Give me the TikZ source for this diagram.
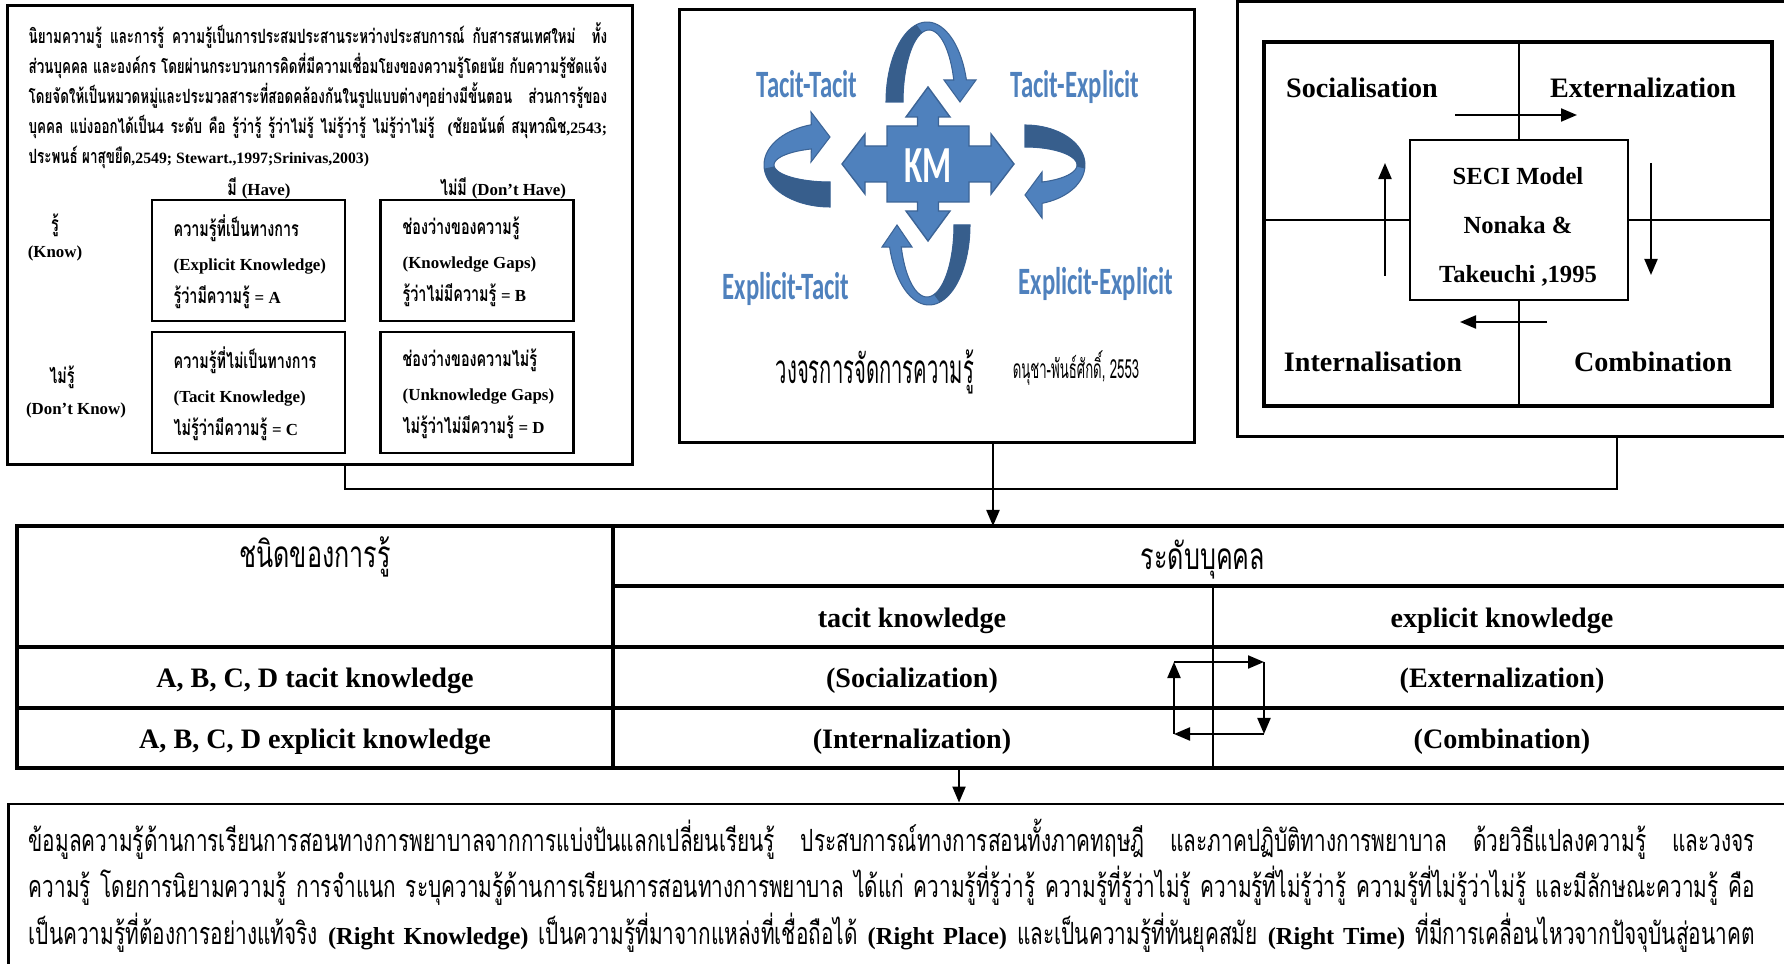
\documentclass[tikz,border=0pt]{standalone}
\usepackage{fontspec}
\setmainfont{Liberation Serif}
\newfontfamily\latfont[Scale=0.8]{Liberation Serif}
\newfontfamily\thaifont[Script=Thai,FakeStretch=0.68]{Loma}
\newfontfamily\thainarrow[Script=Thai,FakeStretch=0.5]{Loma}
\newfontfamily\kmfont[FakeStretch=0.64]{Carlito}
\usetikzlibrary{arrows.meta}

\definecolor{kmblue}{RGB}{79,129,189}
\definecolor{kmdark}{RGB}{55,94,140}
\definecolor{kmedge}{RGB}{60,100,150}

% latin runs inside thai text, and full-width justified lines
\newcommand\lat[1]{{\latfont\bfseries #1}}
\newcommand\jline[2]{\makebox[#1][s]{#2}}

\tikzset{
  frame/.style={draw, line width=0.8pt, inner sep=0pt},
  heavyframe/.style={draw, line width=1.3pt, inner sep=0pt},
  rule/.style={line width=1pt},
  hair/.style={line width=0.6pt},
  wire/.style={line width=0.7pt},
  flow/.style={line width=0.6pt, -{Triangle[length=1.6mm,width=1.3mm]}},
  deftext/.style={font=\thaifont\bfseries\fontsize{5.6}{8.5}\selectfont, align=left, inner sep=0pt},
  celltext/.style={font=\thaifont\bfseries\fontsize{6}{9.5}\selectfont, align=left, inner sep=0pt, anchor=west},
  smallhead/.style={font=\thaifont\bfseries\fontsize{6}{7}\selectfont, inner sep=0pt},
  kmlabel/.style={font=\kmfont\bfseries\fontsize{11}{12}\selectfont, text=kmblue, anchor=base, inner sep=0pt},
  ribbon/.style={fill=kmblue, draw=kmedge, line width=0.3pt},
  ribback/.style={fill=kmdark},
  secilabel/.style={font=\bfseries\fontsize{8}{9}\selectfont, inner sep=0pt},
  tablehead/.style={font=\thaifont\fontsize{10.5}{11}\selectfont, inner sep=0pt},
  tabletext/.style={font=\bfseries\fontsize{8}{9}\selectfont, inner sep=0pt},
  notetext/.style={font=\thaifont\fontsize{8.7}{13.3}\selectfont, align=left, inner sep=0pt}
}

\begin{document}
\begin{tikzpicture}[x=0.01cm, y=-0.01cm]
\useasboundingbox (0,0) rectangle (1784,964);

% ---- knowing / having matrix ----
\node[frame, minimum width=6.24cm, minimum height=4.58cm] (defbox) at (320,235) {};
\node[deftext, anchor=north west] (defn) at (28,22) {%
\jline{5.78cm}{นิยามความรู้ และการรู้ ความรู้เป็นการประสมประสานระหว่างประสบการณ์ กับสารสนเทศใหม่ \ ทั้ง}\\
\jline{5.78cm}{ส่วนบุคคล และองค์กร โดยผ่านกระบวนการคิดที่มีความเชื่อมโยงของความรู้โดยนัย กับความรู้ชัดแจ้ง}\\
\jline{5.78cm}{โดยจัดให้เป็นหมวดหมู่และประมวลสาระที่สอดคล้องกันในรูปแบบต่างๆอย่างมีขั้นตอน \ ส่วนการรู้ของ}\\
\jline{5.78cm}{บุคคล แบ่งออกได้เป็น\lat{4} ระดับ คือ รู้ว่ารู้ รู้ว่าไม่รู้ ไม่รู้ว่ารู้ ไม่รู้ว่าไม่รู้ \ \lat{(}ชัยอนันต์ สมุทวณิช\lat{,2543;}}\\
ประพนธ์ ผาสุขยืด\lat{,2549; Stewart.,1997;Srinivas,2003)}};

\node[smallhead] (have) at (259,188) {มี \lat{(Have)}};
\node[smallhead] (nohave) at (503,188) {ไม่มี \lat{(Don’t Have)}};
\node[smallhead] (know) at (55,225) {รู้};
\node[smallhead] (knowen) at (55,253) {\lat{(Know)}};
\node[smallhead] (dknow) at (62,377) {ไม่รู้};
\node[smallhead] (dknowen) at (76,410) {\lat{(Don’t Know)}};

\node[frame, minimum width=1.93cm, minimum height=1.21cm] (cellA) at (248.5,260.5) {};
\node[frame, minimum width=1.93cm, minimum height=1.21cm] (cellB) at (477,260.5) {};
\node[frame, minimum width=1.93cm, minimum height=1.21cm] (cellC) at (248.5,392.5) {};
\node[frame, minimum width=1.93cm, minimum height=1.21cm] (cellD) at (477,392.5) {};
\node[celltext] (txtA) at (173,262) {ความรู้ที่เป็นทางการ\\\lat{(Explicit Knowledge)}\\รู้ว่ามีความรู้ \lat{= A}};
\node[celltext] (txtB) at (402,262) {ช่องว่างของความรู้\\\lat{(Knowledge Gaps)}\\รู้ว่าไม่มีความรู้ \lat{= B}};
\node[celltext] (txtC) at (173,394) {ความรู้ที่ไม่เป็นทางการ\\\lat{(Tacit Knowledge)}\\ไม่รู้ว่ามีความรู้ \lat{= C}};
\node[celltext] (txtD) at (402,394) {ช่องว่างของความไม่รู้\\\lat{(Unknowledge Gaps)}\\ไม่รู้ว่าไม่มีความรู้ \lat{= D}};

% ---- KM cycle ----
\node[frame, minimum width=5.14cm, minimum height=4.32cm] (kmbox) at (937,226) {};

% four curled ribbons, dark part is the inside of the band
\path[ribbon] plot[domain=180:16, samples=40] ({927+41*cos(\x)},{102-80*sin(\x)})
  -- (976,80) -- (960,102) -- (944,80)
  -- plot[domain=17.8:180, samples=40] ({929+26*cos(\x)},{102-72*sin(\x)}) -- cycle;
\path[ribback] plot[domain=180:105, samples=20] ({927+41*cos(\x)},{102-80*sin(\x)})
  -- plot[domain=105:180, samples=20] ({929+26*cos(\x)},{102-72*sin(\x)}) -- cycle;

\path[ribbon] plot[domain=90:-73.5, samples=40] ({1025+60*cos(\x)},{165-40*sin(\x)})
  -- (1042,218) -- (1025,195) -- (1042,172)
  -- plot[domain=-70.9:90, samples=40] ({1025+52*cos(\x)},{165-18*sin(\x)}) -- cycle;
\path[ribback] plot[domain=90:-5, samples=20] ({1025+60*cos(\x)},{165-40*sin(\x)})
  -- plot[domain=-5:90, samples=20] ({1025+52*cos(\x)},{165-18*sin(\x)}) -- cycle;

\path[ribbon] plot[domain=0:-164, samples=40] ({929+41*cos(\x)},{225-80*sin(\x)})
  -- (882,247) -- (897,225) -- (912,247)
  -- plot[domain=-162.2:0, samples=40] ({927+27*cos(\x)},{225-72*sin(\x)}) -- cycle;
\path[ribback] plot[domain=0:-75, samples=20] ({929+41*cos(\x)},{225-80*sin(\x)})
  -- plot[domain=-75:0, samples=20] ({927+27*cos(\x)},{225-72*sin(\x)}) -- cycle;

\path[ribbon] plot[domain=-90:-253.5, samples=40] ({830+66*cos(\x)},{165-42*sin(\x)})
  -- (811,112) -- (830,137) -- (811,162)
  -- plot[domain=-250.5:-90, samples=40] ({830+56*cos(\x)},{165-17*sin(\x)}) -- cycle;
\path[ribback] plot[domain=-90:-175, samples=20] ({830+66*cos(\x)},{165-42*sin(\x)})
  -- plot[domain=-175:-90, samples=20] ({830+56*cos(\x)},{165-17*sin(\x)}) -- cycle;

% the four-way arrow in the middle
\begin{scope}[shift={(928,164)}]
\path[fill=kmblue, draw=kmedge, line width=0.4pt]
  (-86,0) -- (-63,-30) -- (-63,-18) -- (-41,-18) -- (-41,-38) -- (-10.5,-38)
  -- (-10.5,-47) -- (-22,-47) -- (0,-77) -- (22,-47) -- (10.5,-47) -- (10.5,-38)
  -- (41,-38) -- (41,-18) -- (63,-18) -- (63,-30) -- (86,0) -- (63,30)
  -- (63,18) -- (41,18) -- (41,38) -- (10.5,38) -- (10.5,47) -- (22,47)
  -- (0,77) -- (-22,47) -- (-10.5,47) -- (-10.5,38) -- (-41,38) -- (-41,18)
  -- (-63,18) -- (-63,30) -- cycle;
\end{scope}
\node[font=\kmfont\bfseries\fontsize{14.8}{15}\selectfont, text=white, inner sep=0pt] (km) at (928,166) {KM};

\node[kmlabel] (tt) at (807,98) {Tacit-Tacit};
\node[kmlabel] (te) at (1075,98) {Tacit-Explicit};
\node[kmlabel] (et) at (786,300) {Explicit-Tacit};
\node[kmlabel] (ee) at (1096,295) {Explicit-Explicit};

\node[font=\thainarrow\fontsize{11.5}{12}\selectfont, anchor=base, inner sep=0pt] (kmcycle) at (875,384) {วงจรการจัดการความรู้};
\node[font=\thainarrow\fontsize{7.5}{8}\selectfont, anchor=base, inner sep=0pt] (kmref) at (1076,379) {ดนุชา-พันธ์ศักดิ์, 2553};

% ---- SECI ----
\node[frame, minimum width=5.62cm, minimum height=4.34cm] (secibox) at (1519,219) {};
\node[heavyframe, minimum width=5.08cm, minimum height=3.64cm] (seciframe) at (1518,224) {};
\node[draw, line width=0.6pt, minimum width=2.18cm, minimum height=1.6cm] (seci) at (1519,220) {};
\node[align=center, inner sep=0pt, font=\bfseries\fontsize{7}{13.9}\selectfont] (secitxt) at (1518,227) {SECI Model\\Nonaka \&\\Takeuchi ,1995};
\draw[hair] (seci.north) -- (seciframe.north -| seci.north);
\draw[hair] (seci.south) -- (seciframe.south -| seci.south);
\draw[hair] (seci.west) -- (seciframe.west |- seci.west);
\draw[hair] (seci.east) -- (seciframe.east |- seci.east);

\node[secilabel] (soc) at (1362,88) {Socialisation};
\node[secilabel] (ext) at (1643,88) {Externalization};
\node[secilabel] (int) at (1373,362) {Internalisation};
\node[secilabel] (com) at (1653,362) {Combination};

\coordinate (sa1) at (1455,115); \coordinate (sa2) at (1577,115);
\coordinate (sb1) at (1651,163); \coordinate (sb2) at (1651,275);
\coordinate (sc1) at (1547,322); \coordinate (sc2) at (1460,322);
\coordinate (sd1) at (1385,276); \coordinate (sd2) at (1385,163);
\foreach \p in {a,b,c,d}
  \draw[flow] (s\p1) -- (s\p2);

% ---- links into the table ----
\coordinate (busL) at (345,489);
\coordinate (busM) at (993,489);
\coordinate (busR) at (1617,489);
\coordinate (tabtop) at (993,526);
\draw[wire] (defbox.south -| busL) -- (busL) -- (busR) -- (secibox.south -| busR);
\draw[flow] (kmbox.south -| busM) -- (tabtop);

% ---- table ----
\draw[rule] (17,526) rectangle (1800,768);
\draw[rule] (613,526) -- (613,768);
\draw[rule] (613,586) -- (1800,586);
\draw[rule] (17,647) -- (1800,647);
\draw[rule] (17,708) -- (1800,708);
\draw[hair] (1213,586) -- (1213,768);

\node[tablehead] (kind) at (315,557) {ชนิดของการรู้};
\node[tablehead] (level) at (1203,560) {ระดับบุคคล};
\node[tabletext] (tacith) at (912,621) {tacit knowledge};
\node[tabletext] (explh) at (1502,621) {explicit knowledge};
\node[tabletext] (rowt) at (315,681) {A, B, C, D tacit knowledge};
\node[tabletext] (soc2) at (912,681) {(Socialization)};
\node[tabletext] (ext2) at (1502,681) {(Externalization)};
\node[tabletext] (rowe) at (315,742) {A, B, C, D explicit knowledge};
\node[tabletext] (int2) at (912,742) {(Internalization)};
\node[tabletext] (com2) at (1502,742) {(Combination)};

\coordinate (cyA) at (1174,662);
\coordinate (cyB) at (1264,662);
\coordinate (cyC) at (1264,734);
\coordinate (cyD) at (1174,734);
\foreach \a/\b in {cyA/cyB, cyB/cyC, cyC/cyD, cyD/cyA}
  \draw[flow] (\a) -- (\b);

% ---- summary ----
\coordinate (tabbot) at (959,768);
\node[frame, minimum width=17.95cm, minimum height=1.9cm] (note) at (906.5,899) {};
\draw[flow] (tabbot) -- (note.north -| tabbot);
\node[notetext, anchor=north west] (notetxt) at (28,818) {%
\jline{17.25cm}{ข้อมูลความรู้ด้านการเรียนการสอนทางการพยาบาลจากการแบ่งปันแลกเปลี่ยนเรียนรู้ ประสบการณ์ทางการสอนทั้งภาคทฤษฎี และภาคปฏิบัติทางการพยาบาล ด้วยวิธีแปลงความรู้ และวงจร}\\
\jline{17.25cm}{ความรู้ โดยการนิยามความรู้ การจำแนก ระบุความรู้ด้านการเรียนการสอนทางการพยาบาล ได้แก่ ความรู้ที่รู้ว่ารู้ ความรู้ที่รู้ว่าไม่รู้ ความรู้ที่ไม่รู้ว่ารู้ ความรู้ที่ไม่รู้ว่าไม่รู้ และมีลักษณะความรู้ คือ}\\
\jline{17.25cm}{เป็นความรู้ที่ต้องการอย่างแท้จริง \lat{(Right Knowledge)} เป็นความรู้ที่มาจากแหล่งที่เชื่อถือได้ \lat{(Right Place)} และเป็นความรู้ที่ทันยุคสมัย \lat{(Right Time)} ที่มีการเคลื่อนไหวจากปัจจุบันสู่อนาคต}};
\end{tikzpicture}
\end{document}
